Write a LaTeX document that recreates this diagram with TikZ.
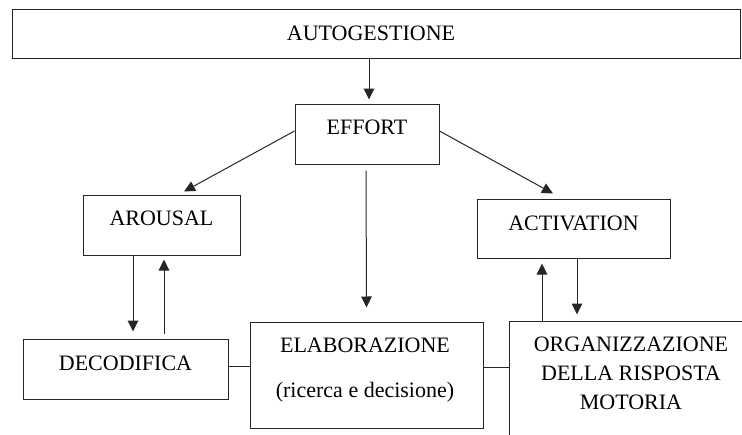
\documentclass[tikz,border=0pt]{standalone}
\usepackage{fontspec}
\setmainfont{Liberation Serif}
\usetikzlibrary{arrows.meta}
\begin{document}
\begin{tikzpicture}[x=1pt,y=-1pt,
  box/.style={draw=black!85, line width=1pt, inner sep=0pt},
  txt/.style={font=\fontsize{22}{29}\selectfont, inner sep=0pt, text height=15pt, text depth=0pt},
  mtxt/.style={font=\fontsize{22}{29}\selectfont, inner sep=0pt, align=center},
  link/.style={draw=black!85, line width=1pt},
  arr/.style={link, -{Triangle[length=11pt,width=10.5pt]}}]
\useasboundingbox (0,0) rectangle (742,434);
\clip (0,0) rectangle (742,434);

% boxes
\node[box, minimum width=728pt, minimum height=48.5pt] (autog) at (376,33.75) {};
\node[box, minimum width=144pt, minimum height=60pt] (effort) at (367,134) {};
\node[box, minimum width=157pt, minimum height=60pt] (arousal) at (161.5,225) {};
\node[box, minimum width=193pt, minimum height=59pt] (activ) at (573.5,228.5) {};
\node[box, minimum width=205pt, minimum height=60pt] (decod) at (125.5,369) {};
\node[box, minimum width=233pt, minimum height=106pt] (elab) at (366.5,375) {};
\node[box, minimum width=266pt, minimum height=129pt] (org) at (642,385.5) {};

% labels
\node[txt] (t-autog) at (371,33) {AUTOGESTIONE};
\node[txt] (t-effort) at (367,127) {EFFORT};
\node[txt] (t-arousal) at (161.5,218) {AROUSAL};
\node[txt] (t-activ) at (573.5,223) {ACTIVATION};
\node[txt] (t-decod) at (125.5,363) {DECODIFICA};
\node[txt] (t-elab) at (365,345) {ELABORAZIONE};
\node[txt] (t-elab2) at (365,389.5) {(ricerca e decisione)};
\node[mtxt] (t-org) at (631,373) {ORGANIZZAZIONE\\DELLA RISPOSTA\\MOTORIA};

% connectors
\draw[arr] ([xshift=-7pt]autog.south) -- ([xshift=2pt,yshift=4pt]effort.north);
\draw[arr] ([yshift=3pt]effort.west) -- ([xshift=22.5pt,yshift=3pt]arousal.north);
\draw[arr] ([yshift=3pt]effort.east) -- ([xshift=-20.5pt,yshift=5pt]activ.north);
\draw[arr] ([xshift=-1pt,yshift=-6pt]effort.south) -- ([yshift=14pt]elab.north);
\draw[arr] ([xshift=-28.5pt]arousal.south) -- ([xshift=7.5pt,yshift=7pt]decod.north);
\draw[arr] ([xshift=38.5pt,yshift=5pt]decod.north) -- ([xshift=2.5pt,yshift=-4pt]arousal.south);
\draw[arr] ([xshift=-100pt]org.north) -- ([xshift=-31.5pt,yshift=-5pt]activ.south);
\draw[arr] ([xshift=3.5pt]activ.south) -- ([xshift=-65pt,yshift=6pt]org.north);
\draw[link] ([yshift=3pt]decod.east) -- ([yshift=9pt]elab.west);
\draw[link] ([yshift=8pt]elab.east) -- ([yshift=18.5pt]org.west);
\end{tikzpicture}
\end{document}
